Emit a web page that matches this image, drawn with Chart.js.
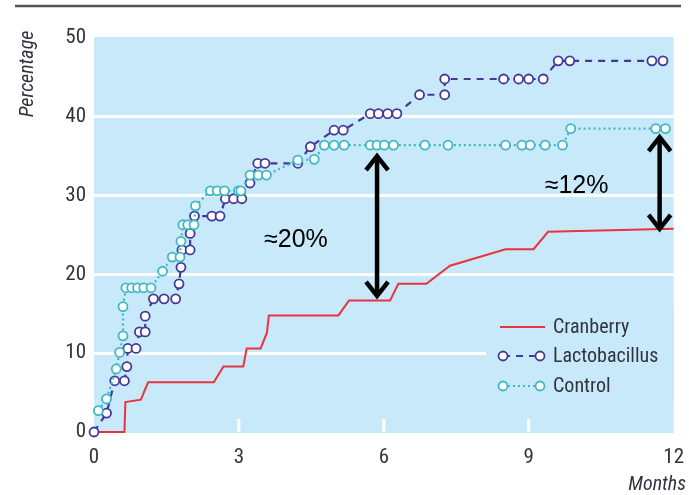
<!DOCTYPE html>
<html>
<head>
<meta charset="utf-8">
<script src="https://cdn.jsdelivr.net/npm/chart.js@4.4.1/dist/chart.umd.min.js"></script>
<style>
  html, body { margin: 0; padding: 0; background: #fff; }
  #wrap { width: 689px; height: 495px; position: relative; }
</style>
</head>
<body>
<div id="wrap"><canvas id="chart"></canvas></div>
<script>
// axis ticks
const monthTicks = [0, 3, 6, 9, 12];
const percentTicks = [0, 10, 20, 30, 40, 50];

// Cranberry (step line, no markers)
const cranberryMonths = [0, 0.63, 0.65, 0.97, 1.12, 2.48, 2.68, 3.09, 3.16, 3.45, 3.58, 3.62, 5.06, 5.28, 6.13, 6.3, 6.88, 7.37, 8.52, 9.1, 9.4, 12];
const cranberryPct    = [0, 0, 3.8, 4.1, 6.3, 6.3, 8.3, 8.3, 10.6, 10.6, 12.6, 14.8, 14.8, 16.7, 16.7, 18.8, 18.8, 21.1, 23.2, 23.2, 25.4, 25.8];

// Lactobacillus
const lactoMonths = [0, 0.26, 0.43, 0.63, 0.68, 0.70, 0.87, 0.94, 1.06, 1.06, 1.23, 1.45, 1.69, 1.76, 1.80, 1.82, 1.99, 1.99, 2.08, 2.44,
  2.61, 2.72, 2.89, 3.06, 3.23, 3.39, 3.54, 4.22, 4.48, 4.97, 5.16, 5.72, 5.89, 6.08, 6.27, 6.74, 7.26, 7.26, 8.48, 8.79,
  9.0, 9.3, 9.61, 9.85, 11.55, 11.78];
const lactoPct = [0, 2.4, 6.5, 6.5, 8.3, 10.6, 10.6, 12.7, 12.7, 14.7, 16.9, 16.9, 16.9, 18.8, 20.9, 23.1, 23.1, 25.2, 27.4, 27.4,
  27.4, 29.6, 29.6, 29.6, 31.6, 34.1, 34.1, 34.1, 36.2, 38.3, 38.3, 40.4, 40.4, 40.4, 40.4, 42.8, 42.8, 44.8, 44.8, 44.8,
  44.8, 44.8, 47.1, 47.1, 47.1, 47.1];

// Control
const controlMonths = [0.09, 0.26, 0.46, 0.53, 0.6, 0.6, 0.66, 0.78, 0.9, 1.03, 1.18, 1.42, 1.62, 1.78, 1.80, 1.84, 1.94, 2.07, 2.1,
  2.41, 2.55, 2.7, 2.99, 3.04, 3.23, 3.4, 3.57, 4.22, 4.56, 4.77, 4.97, 5.18, 5.72, 5.86, 6.01, 6.2, 6.85, 7.33,
  8.52, 8.86, 9.03, 9.34, 9.7, 9.87, 11.63, 11.83];
const controlPct = [2.7, 4.2, 8.0, 10.1, 12.2, 15.9, 18.3, 18.3, 18.3, 18.3, 18.3, 20.4, 22.2, 22.2, 24.2, 26.3, 26.3, 26.3, 28.7,
  30.6, 30.6, 30.6, 30.6, 30.6, 32.6, 32.6, 32.6, 34.5, 34.6, 36.4, 36.4, 36.4, 36.4, 36.4, 36.4, 36.4, 36.4, 36.4,
  36.4, 36.4, 36.4, 36.4, 36.4, 38.5, 38.5, 38.5];

// difference arrows and their labels
const arrowMonths = [5.86, 11.71];
const arrowTopPct = [35.4, 37.8];
const arrowBottomPct = [16.9, 25.4];
const gapLabels = ['≈20%', '≈12%'];
const gapLabelMonths = [4.18, 9.99];
const gapLabelPct = [24.3, 31.2];

const NARROW = '"Roboto Condensed", "Liberation Sans Narrow", Roboto, sans-serif';
const TEXT = '#333340';
const RED = '#e8343e';
const NAVY = '#43399a';
const TEAL = '#3cb9c4';
const BG = '#c8e9fa';

function pts(xs, ys) { return xs.map((x, i) => ({ x: x, y: ys[i] })); }

const decorations = {
  id: 'decorations',
  beforeDraw(chart) {
    const { ctx, chartArea: a } = chart;
    ctx.save();
    ctx.fillStyle = BG;
    ctx.fillRect(a.left, a.top - 1, a.right - a.left, a.bottom - a.top + 2);
    ctx.strokeStyle = '#555';
    ctx.lineWidth = 2.5;
    ctx.beginPath(); ctx.moveTo(15, 6); ctx.lineTo(681, 6); ctx.stroke();
    ctx.restore();
  },
  beforeDatasetsDraw(chart) {
    const { ctx, chartArea: a, scales } = chart;
    ctx.save();
    ctx.strokeStyle = '#fff';
    ctx.lineWidth = 3;
    [3, 6, 9].forEach(m => {
      const px = scales.x.getPixelForValue(m);
      ctx.beginPath(); ctx.moveTo(px, a.bottom - 13); ctx.lineTo(px, a.bottom); ctx.stroke();
    });
    ctx.restore();
  },
  afterDraw(chart) {
    const { ctx, scales } = chart;
    const xs = scales.x, ys = scales.y;
    ctx.save();

    // legend box
    ctx.fillStyle = BG;
    ctx.fillRect(486, 306, chart.chartArea.right - 486, 96);
    const ds = chart.data.datasets;
    const rows = [327, 356, 386];
    ds.forEach((d, i) => {
      const y = rows[i];
      ctx.strokeStyle = d.borderColor;
      ctx.lineWidth = 2;
      ctx.setLineDash(d.borderDash || []);
      ctx.beginPath(); ctx.moveTo(i === 0 ? 500 : 503, y); ctx.lineTo(i === 0 ? 545 : 540, y); ctx.stroke();
      ctx.setLineDash([]);
      if (d.pointRadius > 0) {
        [503, 540].forEach(cx => {
          ctx.beginPath(); ctx.arc(cx, y, 4.5, 0, Math.PI * 2);
          ctx.fillStyle = '#fff'; ctx.fill();
          ctx.lineWidth = 1.8; ctx.strokeStyle = d.pointBorderColor; ctx.stroke();
        });
      }
      ctx.fillStyle = TEXT;
      ctx.font = '20px ' + NARROW;
      ctx.textAlign = 'left';
      ctx.textBaseline = 'middle';
      ctx.fillText(d.label, 553, y + 1);
    });

    // arrows
    ctx.strokeStyle = '#000';
    ctx.lineWidth = 4.5;
    ctx.lineJoin = 'miter';
    arrowMonths.forEach((m, i) => {
      const x = xs.getPixelForValue(m);
      const y1 = ys.getPixelForValue(arrowTopPct[i]);
      const y2 = ys.getPixelForValue(arrowBottomPct[i]);
      ctx.beginPath(); ctx.moveTo(x, y1 + 3); ctx.lineTo(x, y2 - 3); ctx.stroke();
      ctx.beginPath(); ctx.moveTo(x - 11, y1 + 17); ctx.lineTo(x, y1 + 3); ctx.lineTo(x + 11, y1 + 17); ctx.stroke();
      ctx.beginPath(); ctx.moveTo(x - 11, y2 - 17); ctx.lineTo(x, y2 - 3); ctx.lineTo(x + 11, y2 - 17); ctx.stroke();
    });
    ctx.fillStyle = '#000';
    ctx.font = '25px "Liberation Sans", Arial, sans-serif';
    ctx.textAlign = 'center';
    ctx.textBaseline = 'middle';
    gapLabels.forEach((t, i) => {
      ctx.fillText(t, xs.getPixelForValue(gapLabelMonths[i]), ys.getPixelForValue(gapLabelPct[i]));
    });

    // axis titles
    ctx.fillStyle = TEXT;
    ctx.font = 'italic 20px ' + NARROW;
    ctx.textBaseline = 'middle';
    ctx.save();
    ctx.translate(28, 74);
    ctx.rotate(-Math.PI / 2);
    ctx.textAlign = 'center';
    ctx.fillText('Percentage', 0, 0);
    ctx.restore();
    ctx.textAlign = 'right';
    ctx.fillText('Months', 686, 485);
    ctx.restore();
  }
};

new Chart(document.getElementById('chart'), {
  type: 'line',
  data: {
    datasets: [
      {
        label: 'Cranberry',
        data: pts(cranberryMonths, cranberryPct),
        borderColor: RED,
        borderWidth: 2,
        pointRadius: 0,
        tension: 0,
        order: 3
      },
      {
        label: 'Lactobacillus',
        data: pts(lactoMonths, lactoPct),
        borderColor: NAVY,
        borderWidth: 2.2,
        borderDash: [7, 6],
        pointRadius: 4.5,
        pointBorderWidth: 1.8,
        pointBackgroundColor: '#fff',
        pointBorderColor: NAVY,
        tension: 0,
        order: 2
      },
      {
        label: 'Control',
        data: pts(controlMonths, controlPct),
        borderColor: TEAL,
        borderWidth: 2.2,
        borderDash: [2, 3],
        pointRadius: 4.5,
        pointBorderWidth: 1.8,
        pointBackgroundColor: '#fff',
        pointBorderColor: TEAL,
        tension: 0,
        order: 1
      }
    ]
  },
  options: {
    responsive: true,
    maintainAspectRatio: false,
    animation: false,
    clip: false,
    layout: { padding: { top: 38, right: 0, left: 0, bottom: 0 } },
    plugins: { legend: { display: false }, tooltip: { enabled: false } },
    scales: {
      x: {
        type: 'linear',
        min: 0, max: 12,
        afterBuildTicks: s => { s.ticks = monthTicks.map(v => ({ value: v })); },
        afterFit: s => { s.height = 63; },
        grid: { display: false },
        border: { display: false },
        ticks: { color: TEXT, font: { family: NARROW, size: 21 }, padding: 5, maxRotation: 0 }
      },
      y: {
        min: 0, max: 50,
        afterBuildTicks: s => { s.ticks = percentTicks.map(v => ({ value: v })); },
        afterFit: s => { s.width = 94; },
        grid: {
          color: c => (c.tick && (c.tick.value === 0 || c.tick.value === 50)) ? 'rgba(0,0,0,0)' : '#fff',
          lineWidth: 3,
          drawTicks: false
        },
        border: { display: false },
        ticks: { color: TEXT, font: { family: NARROW, size: 21 }, padding: 8 }
      }
    }
  },
  plugins: [decorations]
});
</script>
</body>
</html>
